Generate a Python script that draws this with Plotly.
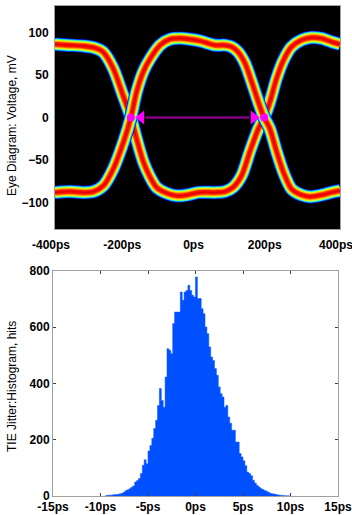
import plotly.graph_objects as go

# ---------------- Eye diagram data ----------------
eye_t_a = [-400, -360, -320, -290, -265, -237, -209, -187, -171, -152, -133, -115, -86, -58, -30, 3, 49, 77, 100, 124, 147, 171, 187, 203, 222, 241, 264, 292, 320, 348, 376, 400]
eye_v_a = [86, 85, 84, 82, 77, 58, 26, 0, -25, -52, -70, -82, -89, -92, -91, -88, -88, -87, -82, -68, -40, -13, 0, 18, 46, 67, 83, 91, 94, 93, 89, 86]

eye_t_b = [-400, -358, -321, -292, -264, -236, -208, -187, -171, -152, -133, -105, -77, -49, -21, 7, 49, 77, 96, 114, 133, 152, 171, 187, 203, 222, 241, 264, 292, 316, 348, 376, 400]
eye_v_b = [-88, -87, -88, -87, -80, -60, -29, 0, 30, 54, 69, 85, 92, 93, 92, 90, 85, 85, 83, 77, 64, 42, 18, 0, -13, -40, -64, -84, -91, -93, -91, -88, -86]

crossing_t = [-187, 187]
crossing_v = [0, 0]
arrow_line_t = [-145, 145]
arrow_head_t = [-158, 158]

eye_xticks = [-400, -200, 0, 200, 400]
eye_xlabels = ["-400ps", "-200ps", "0ps", "200ps", "400ps"]
eye_yticks = [-100, -50, 0, 50, 100]

# ---------------- Histogram data ----------------
hist_centers = [round(-9.5 + 0.2 * i, 1) for i in range(98)]
hist_counts = [1, 2, 3, 3, 4, 5, 5, 6, 8, 10, 14, 20, 22, 26, 31, 36, 50, 55, 62, 80,
               109, 129, 115, 160, 180, 205, 240, 269, 322, 382, 340, 316, 423, 524, 518, 506, 613, 654, 654, 654,
               725, 696, 725, 731, 749, 731, 714, 708, 779, 702, 702, 666, 648, 601, 577, 530, 494, 482, 453, 429,
               388, 364, 352, 316, 322, 281, 259, 234, 234, 192, 192, 151, 139, 125, 108, 85, 80, 72, 56, 46,
               38, 32, 27, 23, 20, 17, 13, 10, 8, 7, 5, 4, 3, 2, 2, 1, 1, 1]
hist_xticks = [-15, -10, -5, 0, 5, 10, 15]
hist_xlabels = ["-15ps", "-10ps", "-5ps", "0ps", "5ps", "10ps", "15ps"]
hist_yticks = [0, 200, 400, 600, 800]

fig = go.Figure()

band_layers = [("#0000e8", 13.5), ("#0070ff", 12.5), ("#00d8ff", 11.5), ("#60ff90", 10.5),
               ("#e0ff20", 9), ("#ffc800", 7.5), ("#ff7800", 6), ("#ff1800", 4.5), ("#e00000", 1.5)]

for t, v in [(eye_t_a, eye_v_a), (eye_t_b, eye_v_b)]:
    for col, w in band_layers:
        fig.add_trace(go.Scatter(x=t, y=v, mode="lines", line=dict(color=col, width=w, shape="spline", smoothing=0.8),
                                 xaxis="x", yaxis="y", hoverinfo="skip", showlegend=False))

fig.add_trace(go.Scatter(x=arrow_line_t, y=[0, 0], mode="lines", line=dict(color="#800080", width=2.5),
                         xaxis="x", yaxis="y", showlegend=False))
fig.add_trace(go.Scatter(x=arrow_head_t, y=[0, 0], mode="markers",
                         marker=dict(symbol=["triangle-left", "triangle-right"], size=12, color="#ff00ff", line=dict(width=0)),
                         xaxis="x", yaxis="y", showlegend=False))
fig.add_trace(go.Scatter(x=crossing_t, y=crossing_v, mode="markers",
                         marker=dict(symbol="circle", size=8, color="#ff00ff", line=dict(width=0)),
                         xaxis="x", yaxis="y", showlegend=False))

# histogram drawn as a filled step outline
fig.add_trace(go.Scatter(x=hist_centers, y=hist_counts, mode="lines", line=dict(color="#0050ff", width=0.5, shape="hvh"),
                         fill="tozeroy", fillcolor="#0050ff", xaxis="x2", yaxis="y2", showlegend=False))

W, H = 352, 515
tickfont = dict(family="Arial, Liberation Sans", size=12, color="black", weight="bold")

fig.update_layout(
    width=W, height=H, margin=dict(l=0, r=0, t=0, b=0, pad=0, autoexpand=False),
    paper_bgcolor="white", plot_bgcolor="white", showlegend=False,
    xaxis=dict(domain=[55 / W, 340 / W], anchor="y", range=[-400, 400], tickmode="array", tickvals=eye_xticks,
               ticktext=eye_xlabels, showgrid=False, zeroline=False, showline=True, linecolor="#a0a0a0",
               linewidth=1, mirror=True, ticks="", tickfont=tickfont, automargin=False, ticklabelstandoff=5,
               ticklabelshift=-4, ticklabeloverflow="allow"),
    yaxis=dict(domain=[1 - 229 / H, 1 - 6 / H], anchor="x", range=[-131, 131], tickmode="array",
               tickvals=eye_yticks, showgrid=False, zeroline=False, showline=True, linecolor="#a0a0a0",
               linewidth=1, mirror=True, ticks="", tickfont=tickfont, automargin=False, ticklabelstandoff=3),
    xaxis2=dict(domain=[53 / W, 338 / W], anchor="y2", range=[-15, 15], tickmode="array", tickvals=hist_xticks,
                ticktext=hist_xlabels, showgrid=False, zeroline=False, showline=True, linecolor="#a0a0a0",
                linewidth=1, mirror="allticks", ticks="inside", ticklen=3, tickcolor="#404040",
                tickfont=tickfont, automargin=False),
    yaxis2=dict(domain=[1 - 496 / H, 1 - 271 / H], anchor="x2", range=[0, 800], tickmode="array",
                tickvals=hist_yticks, showgrid=False, zeroline=False, showline=True, linecolor="#a0a0a0",
                linewidth=1, mirror="allticks", ticks="inside", ticklen=3, tickcolor="#404040",
                tickfont=tickfont, automargin=False),
)

# top plot black background
fig.add_shape(type="rect", xref="x domain", yref="y domain", x0=0, x1=1, y0=0, y1=1,
              fillcolor="black", line=dict(width=0), layer="below")

fig.add_annotation(text="Eye Diagram: Voltage, mV", xref="paper", yref="paper", x=12 / W, y=1 - 126 / H,
                   xanchor="center", yanchor="middle", textangle=-90, showarrow=False,
                   font=dict(family="Arial, Liberation Sans", size=12, color="black"))
fig.add_annotation(text="TIE Jitter:Histogram, hits", xref="paper", yref="paper", x=12 / W, y=1 - 387 / H,
                   xanchor="center", yanchor="middle", textangle=-90, showarrow=False,
                   font=dict(family="Arial, Liberation Sans", size=12, color="black"))

fig.write_html("out.html", config={"displayModeBar": False},
               post_script="document.body.style.margin='0px';")
